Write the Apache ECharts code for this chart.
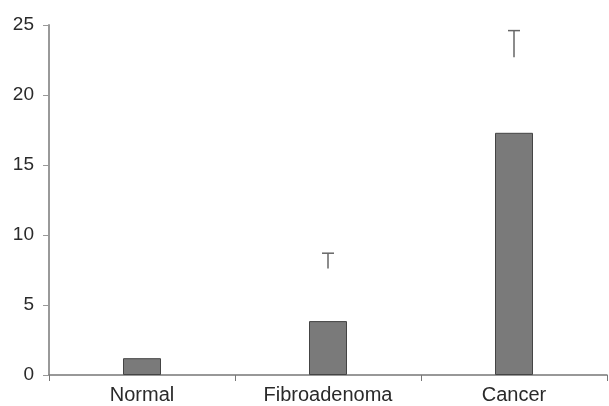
<!DOCTYPE html>
<html>
<head>
<meta charset="utf-8">
<script src="https://cdn.jsdelivr.net/npm/echarts@6/dist/echarts.min.js"></script>
<style>
  html, body { margin: 0; padding: 0; background: #fff; }
  #chart { width: 609px; height: 406px; }
</style>
</head>
<body>
<div id="chart"></div>
<script>
const categories = ["Normal", "Fibroadenoma", "Cancer"];
const barValues = [1.2, 3.85, 17.3];
// floating error whiskers: [low, high] per category (none drawn for Normal)
const errLow = [null, 7.6, 22.7];
const errHigh = [null, 8.7, 24.6];
const yTicks = [0, 5, 10, 15, 20, 25];

const errData = categories
  .map((c, i) => [i, errLow[i], errHigh[i]])
  .filter((d) => d[1] != null);

const chart = echarts.init(document.getElementById("chart"));
chart.setOption({
  animation: false,
  grid: { left: 49, right: 2, top: 25, bottom: 31 },
  xAxis: {
    type: "category",
    data: categories,
    boundaryGap: true,
    axisLine: { lineStyle: { color: "#777", width: 1.5 } },
    axisTick: { show: true, length: 6, lineStyle: { color: "#777" } },
    axisLabel: { color: "#2a2a2a", fontSize: 20, fontFamily: "Liberation Sans", margin: 10 }
  },
  yAxis: {
    type: "value",
    min: yTicks[0],
    max: yTicks[yTicks.length - 1],
    interval: 5,
    splitLine: { show: false },
    axisLine: { show: true, lineStyle: { color: "#999", width: 2 } },
    axisTick: { show: true, length: 6, lineStyle: { color: "#999" } },
    axisLabel: { color: "#2a2a2a", fontSize: 19, fontFamily: "Liberation Sans", margin: 15 }
  },
  series: [
    {
      type: "bar",
      data: barValues,
      barWidth: 38,
      itemStyle: { color: "#7a7a7a", borderColor: "#444", borderWidth: 1 }
    },
    {
      type: "custom",
      data: errData,
      renderItem: (params, api) => {
        const x = api.value(0);
        const lo = api.coord([x, api.value(1)]);
        const hi = api.coord([x, api.value(2)]);
        const half = 6;
        const style = { stroke: "#666", lineWidth: 1.5 };
        return {
          type: "group",
          children: [
            { type: "line", shape: { x1: lo[0], y1: lo[1], x2: hi[0], y2: hi[1] }, style },
            { type: "line", shape: { x1: hi[0] - half, y1: hi[1], x2: hi[0] + half, y2: hi[1] }, style }
          ]
        };
      },
      z: 3
    }
  ]
});
</script>
</body>
</html>
